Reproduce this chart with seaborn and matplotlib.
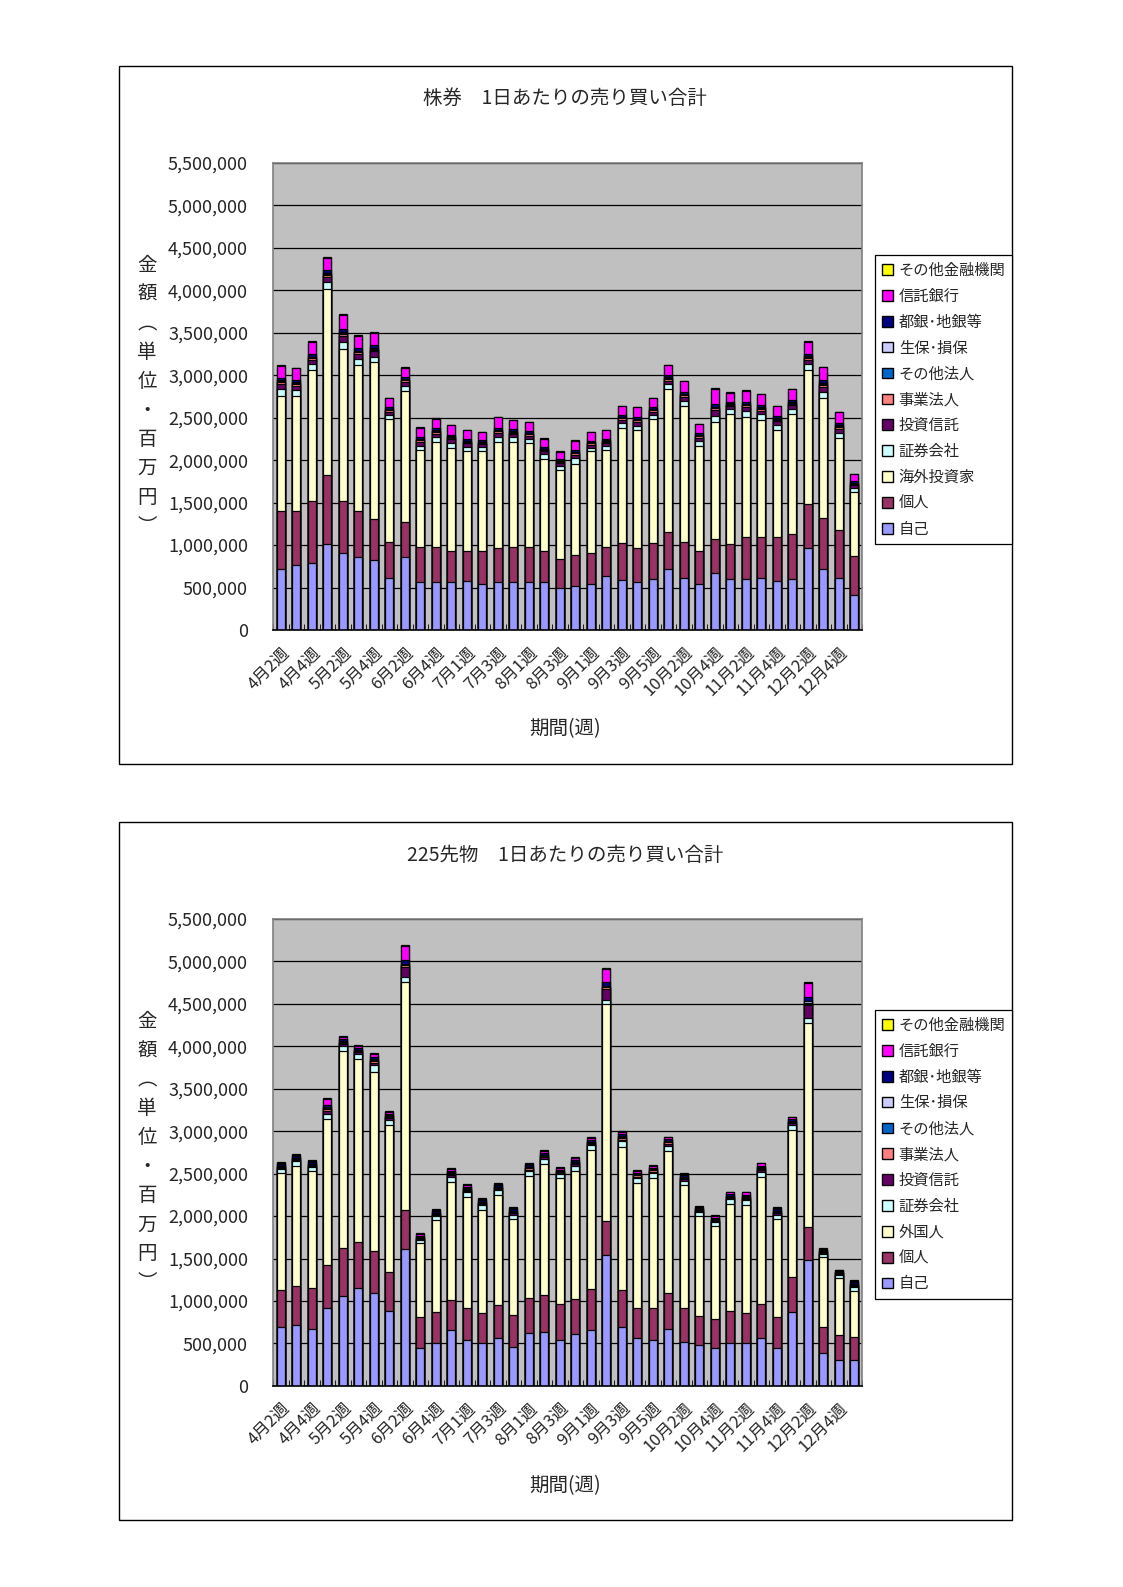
import pandas as pd
import matplotlib
matplotlib.use('Agg')
import matplotlib.pyplot as plt
from matplotlib.patches import Patch, Rectangle
from matplotlib.ticker import FuncFormatter, MultipleLocator
import seaborn as sns

# ===========================
# データ（単位: 千 × 百万円 → 1000倍して使う）
# ===========================
weeks = ['4月2週', '4月3週', '4月4週', '5月1週', '5月2週', '5月3週', '5月4週',
         '6月1週', '6月2週', '6月3週', '6月4週', '6月5週', '7月1週', '7月2週',
         '7月3週', '7月4週', '8月1週', '8月2週', '8月3週', '8月4週', '9月1週',
         '9月2週', '9月3週', '9月4週', '9月5週', '10月1週', '10月2週', '10月3週',
         '10月4週', '11月1週', '11月2週', '11月3週', '11月4週', '12月1週', '12月2週',
         '12月3週', '12月4週', '12月5週']

# 株券
kabu_jiko = [717, 764, 792, 1009, 910, 855, 823, 614, 855, 567, 567, 567, 579, 539, 567, 567, 567, 567, 500,
             516, 539, 634, 594, 567, 606, 717, 614, 547, 677, 598, 598, 614, 579, 606, 970, 717, 614, 417]
kabu_kojin = [687, 632, 730, 821, 612, 541, 486, 426, 422, 414, 414, 367, 355, 395, 395, 414, 414, 367, 331,
              367, 371, 347, 435, 395, 423, 442, 426, 387, 391, 411, 502, 486, 521, 521, 517, 600, 565, 458]
kabu_kaigai = [1354, 1362, 1540, 2184, 1789, 1726, 1852, 1442, 1541, 1134, 1233, 1212, 1173, 1173, 1252, 1237,
               1217, 1086, 1059, 1078, 1193, 1138, 1354, 1390, 1453, 1679, 1600, 1232, 1383, 1540, 1410, 1370,
               1252, 1414, 1575, 1414, 1078, 750]
kabu_shoken = [85, 70, 65, 80, 85, 70, 60, 50, 60, 55, 55, 60, 50, 45, 60, 50, 50, 50, 45,
               60, 45, 50, 55, 55, 50, 55, 60, 60, 70, 55, 65, 70, 60, 60, 65, 75, 65, 45]
kabu_toshin = [55, 50, 55, 65, 65, 55, 60, 40, 45, 45, 45, 40, 40, 35, 45, 40, 40, 35, 35,
               45, 35, 35, 40, 45, 40, 45, 45, 40, 65, 35, 50, 45, 45, 45, 55, 60, 50, 35]
kabu_jigyo = [25, 22, 20, 25, 28, 22, 22, 18, 18, 18, 20, 18, 16, 15, 20, 18, 18, 16, 14,
              18, 15, 16, 18, 18, 16, 20, 22, 18, 25, 16, 20, 22, 20, 20, 22, 25, 22, 14]
kabu_sonota_hojin = [8, 8, 8, 10, 10, 8, 8, 6, 6, 6, 6, 6, 6, 5, 6, 6, 6, 6, 5,
                     6, 5, 5, 6, 6, 6, 6, 6, 6, 8, 6, 6, 6, 6, 6, 8, 8, 6, 5]
kabu_seiho = [12, 10, 10, 12, 14, 12, 12, 8, 10, 10, 10, 10, 8, 8, 10, 8, 8, 8, 8,
              10, 8, 8, 8, 10, 8, 10, 10, 8, 12, 8, 10, 10, 10, 10, 12, 12, 10, 8]
kabu_toginn = [30, 28, 28, 32, 35, 30, 30, 22, 22, 24, 24, 22, 22, 20, 25, 22, 22, 20, 18,
               24, 20, 20, 22, 24, 22, 24, 25, 22, 34, 22, 26, 26, 24, 26, 28, 30, 26, 18]
kabu_shintaku = [139, 136, 142, 145, 160, 143, 148, 103, 109, 112, 114, 107, 101, 96, 124, 106, 106, 100, 87,
                 107, 96, 98, 102, 112, 105, 122, 122, 105, 172, 101, 129, 127, 117, 127, 138, 153, 127, 83]
kabu_sonota_kinyu = [8, 8, 8, 10, 10, 8, 8, 6, 6, 6, 6, 6, 6, 5, 6, 6, 6, 6, 5,
                     6, 5, 5, 6, 6, 6, 6, 6, 6, 8, 6, 6, 6, 6, 6, 8, 8, 6, 5]

# 225先物
sak_jiko = [696, 716, 665, 920, 1058, 1155, 1089, 885, 1612, 449, 507, 657, 538, 507, 570, 461, 618, 637, 538,
            609, 657, 1541, 696, 567, 538, 669, 519, 480, 441, 500, 500, 567, 441, 873, 1482, 382, 304, 304]
sak_kojin = [432, 463, 491, 503, 562, 543, 503, 451, 458, 365, 366, 353, 374, 346, 381, 369, 412, 432, 432,
             413, 479, 399, 432, 353, 374, 420, 393, 342, 353, 380, 353, 403, 373, 412, 384, 314, 301, 274]
sak_gaikoku = [1375, 1411, 1379, 1716, 2323, 2151, 2108, 1736, 2691, 865, 1080, 1395, 1316, 1218, 1296, 1131,
               1441, 1543, 1474, 1513, 1642, 2553, 1681, 1465, 1532, 1677, 1452, 1178, 1088, 1268, 1276, 1493,
               1147, 1728, 2411, 825, 669, 542]
sak_shoken = [50, 55, 45, 60, 60, 60, 80, 60, 55, 45, 50, 60, 55, 55, 55, 55, 60, 60, 50,
              60, 55, 55, 70, 60, 60, 65, 55, 45, 45, 50, 55, 60, 55, 60, 55, 35, 35, 45]
sak_toshin = [15, 15, 15, 40, 20, 20, 25, 20, 120, 12, 14, 18, 16, 16, 15, 16, 16, 18, 14,
              18, 16, 130, 22, 18, 18, 20, 16, 14, 14, 16, 18, 18, 16, 18, 150, 12, 12, 15]
sak_jigyo = [15, 15, 12, 25, 20, 15, 20, 18, 15, 10, 12, 15, 14, 14, 13, 14, 14, 18, 12,
             15, 14, 15, 20, 15, 15, 16, 13, 12, 12, 13, 15, 16, 14, 15, 15, 10, 10, 12]
sak_sonota_hojin = [6, 6, 6, 10, 8, 8, 10, 8, 10, 5, 6, 8, 7, 7, 7, 7, 8, 8, 6,
                    7, 7, 10, 10, 7, 7, 8, 7, 6, 6, 7, 7, 8, 7, 7, 10, 5, 5, 6]
sak_seiho = [6, 6, 6, 10, 8, 8, 10, 8, 10, 5, 6, 8, 7, 7, 7, 7, 8, 8, 6,
             7, 7, 10, 10, 7, 7, 8, 7, 6, 6, 7, 7, 8, 7, 7, 25, 5, 5, 6]
sak_toginn = [15, 18, 16, 30, 25, 20, 30, 20, 50, 15, 16, 20, 18, 18, 17, 18, 19, 20, 16,
              20, 19, 45, 25, 20, 20, 22, 17, 15, 16, 17, 20, 20, 18, 20, 45, 12, 12, 16]
sak_shintaku = [15, 15, 18, 60, 26, 20, 28, 20, 162, 19, 15, 20, 20, 16, 16, 16, 17, 24, 18,
                22, 23, 149, 28, 21, 22, 21, 16, 14, 20, 21, 27, 27, 17, 22, 173, 15, 13, 19]
sak_sonota_kinyu = [7, 7, 7, 12, 10, 10, 12, 10, 10, 6, 7, 8, 8, 8, 8, 8, 8, 9, 7,
                    8, 8, 10, 10, 8, 8, 9, 7, 6, 7, 7, 8, 8, 7, 8, 10, 5, 5, 7]

colores = {
    '自己': '#9999FF', '個人': '#993366', '海外投資家': '#FFFFCC', '外国人': '#FFFFCC',
    '証券会社': '#CCFFFF', '投資信託': '#660066', '事業法人': '#FF8080',
    'その他法人': '#0066CC', '生保･損保': '#CCCCFF', '都銀･地銀等': '#000080',
    '信託銀行': '#FF00FF', 'その他金融機関': '#FFFF00',
}

df_kabu = pd.DataFrame({
    '自己': kabu_jiko, '個人': kabu_kojin, '海外投資家': kabu_kaigai, '証券会社': kabu_shoken,
    '投資信託': kabu_toshin, '事業法人': kabu_jigyo, 'その他法人': kabu_sonota_hojin,
    '生保･損保': kabu_seiho, '都銀･地銀等': kabu_toginn, '信託銀行': kabu_shintaku,
    'その他金融機関': kabu_sonota_kinyu,
}, index=weeks) * 1000

df_sak = pd.DataFrame({
    '自己': sak_jiko, '個人': sak_kojin, '外国人': sak_gaikoku, '証券会社': sak_shoken,
    '投資信託': sak_toshin, '事業法人': sak_jigyo, 'その他法人': sak_sonota_hojin,
    '生保･損保': sak_seiho, '都銀･地銀等': sak_toginn, '信託銀行': sak_shintaku,
    'その他金融機関': sak_sonota_kinyu,
}, index=weeks) * 1000

sns.set_style('white')
plt.rcParams['font.family'] = ['Noto Sans CJK JP', 'DejaVu Sans']

fig = plt.figure(figsize=(11.23, 15.87), dpi=100)
fig.patch.set_facecolor('white')


def dibujar(df, ax_pos, frame_y0, title, title_y, xlabel_y, ylabel_y, legend_y):
    # marco del gráfico (chart area)
    fig.patches.append(Rectangle((0.106, frame_y0), 0.7952, 0.4398, transform=fig.transFigure,
                                 fill=False, edgecolor='black', linewidth=1.0))
    ax = fig.add_axes(ax_pos)
    ax.set_facecolor('#C0C0C0')

    # barras apiladas: se dibujan las sumas acumuladas de mayor a menor
    cols = list(df.columns)
    acum = df.cumsum(axis=1)
    for col in reversed(cols):
        sns.barplot(x=weeks, y=acum[col].values, order=weeks, color=colores[col], width=0.5,
                    saturation=1, edgecolor='black', linewidth=0.9, errorbar=None, ax=ax)
    for p in ax.patches:
        p.set_zorder(2)

    ax.set_ylim(0, 5500000)
    ax.set_xlim(-0.5, len(weeks) - 0.5)
    ax.yaxis.set_major_locator(MultipleLocator(500000))
    ax.yaxis.set_major_formatter(FuncFormatter(lambda v, p: f'{int(v):,}'))
    ax.set_axisbelow(True)
    ax.grid(axis='y', color='black', linewidth=0.9, zorder=0)

    ax.set_xticks(range(0, len(weeks), 2))
    ax.set_xticklabels(weeks[::2], rotation=45, ha='right', va='top', rotation_mode='anchor', fontsize=12)
    ax.set_xticks([i - 0.5 for i in range(len(weeks) + 1)], minor=True)
    ax.tick_params(axis='x', which='major', length=0, pad=10)
    ax.tick_params(axis='x', which='minor', length=4, direction='in', color='black', bottom=True)
    ax.tick_params(axis='y', length=0, pad=18, labelsize=13)
    ax.set_xlabel('')
    ax.set_ylabel('')

    for s in ['left', 'top', 'right']:
        ax.spines[s].set_color('#808080')
        ax.spines[s].set_linewidth(1.2)
    ax.spines['bottom'].set_color('black')
    ax.spines['bottom'].set_linewidth(1.2)

    fig.text(0.503, title_y, title, ha='center', va='center', fontsize=14)
    fig.text(0.503, xlabel_y, '期間(週)', ha='center', va='center', fontsize=14)
    fig.text(0.131, ylabel_y, '\n'.join(['金', '額', '︵', '単', '位', '・', '百', '万', '円', '︶']),
             ha='center', va='center', fontsize=14, linespacing=1.5)

    handles = [Patch(facecolor=colores[c], edgecolor='black', label=c) for c in reversed(cols)]
    leg = fig.legend(handles=handles, loc='upper left', bbox_to_anchor=(0.7792, legend_y),
                     frameon=True, fancybox=False, edgecolor='black', framealpha=1, fontsize=11,
                     handlelength=0.7, handleheight=0.7, handletextpad=0.4, labelspacing=0.58,
                     borderpad=0.45, borderaxespad=0)
    leg.get_frame().set_linewidth(0.9)
    return ax


dibujar(df_kabu, [0.2431, 0.6030, 0.5245, 0.2943], 0.5186, '株券　1日あたりの売り買い合計',
        0.9382, 0.5406, 0.7505, 0.8393)
dibujar(df_sak, [0.2431, 0.1267, 0.5245, 0.2943], 0.0422, '225先物　1日あたりの売り買い合計',
        0.4612, 0.0636, 0.2738, 0.3636)

plt.savefig('out.png', dpi=100)
